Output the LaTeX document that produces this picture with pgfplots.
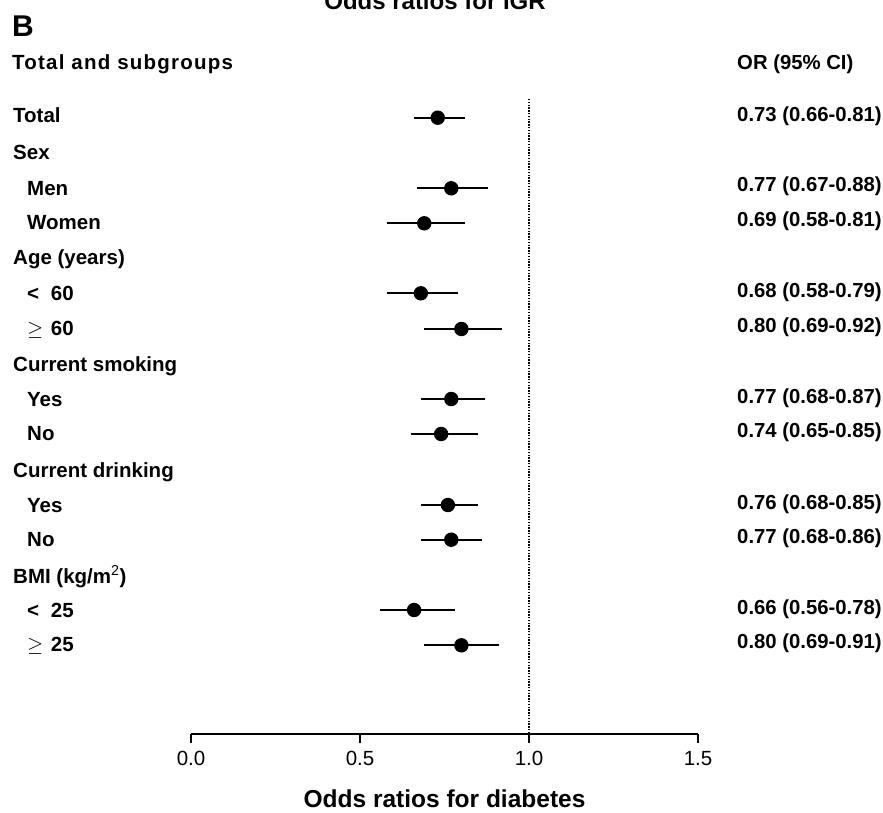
\documentclass[border=0pt]{standalone}
\usepackage{fontspec}
\setmainfont{Liberation Sans}
\usepackage{pgfplots}
\pgfplotsset{compat=1.18}
\usepackage{pgfplotstable}

\pgfplotstableread{
y or lo hi
117.7 0.73 0.66 0.81
188.3 0.77 0.67 0.88
223.3 0.69 0.58 0.81
293.3 0.68 0.58 0.79
329.0 0.80 0.69 0.92
399.0 0.77 0.68 0.87
434.0 0.74 0.65 0.85
505.0 0.76 0.68 0.85
539.7 0.77 0.68 0.86
610.0 0.66 0.56 0.78
645.3 0.80 0.69 0.91
}\ortable

\newcommand\lab{\fontsize{20.5}{24}\selectfont\bfseries}
\newcommand\val{\fontsize{20.3}{24}\selectfont\bfseries}

\begin{document}
\begin{tikzpicture}
\begin{axis}[
  scale only axis, width=507pt, height=644pt,
  xmin=0, xmax=1.5, ymin=-734, ymax=-90,
  axis x line=bottom, axis y line=none,
  x axis line style={-, line width=1.5pt, black},
  xtick={0,0.5,1,1.5}, xticklabels={0.0,0.5,1.0,1.5},
  tick align=outside, major tick length=9pt,
  xtick style={line width=1.5pt, black},
  xticklabel style={font=\fontsize{20.5}{24}\selectfont, yshift=-5pt},
  ytick=\empty,
  clip=false,
]
\addplot[black, line width=1.2pt, dash pattern=on 1.4pt off 1.4pt] coordinates {(1,-99) (1,-734)};
\addplot[black, line width=1.8pt, only marks, mark=*, mark size=6.3pt,
  error bars/.cd, x dir=both, x explicit, error mark=none,
  error bar style={line width=1.8pt, black}]
  table[x=or, y expr=-\thisrow{y},
        x error plus expr=\thisrow{hi}-\thisrow{or},
        x error minus expr=\thisrow{or}-\thisrow{lo}] {\ortable};

% header texts
\node[anchor=base west, inner sep=0] at (axis cs:-0.5296,-36.7) {\fontsize{30}{36}\selectfont\bfseries B};
\node[anchor=base, inner sep=0] at (axis cs:0.7219,-10) {\fontsize{24}{28}\selectfont\bfseries Odds ratios for IGR};
\node[anchor=base west, inner sep=0] at (axis cs:-0.5296,-70) {\lab\addfontfeature{LetterSpace=6}Total and subgroups};
\node[anchor=base west, inner sep=0] at (axis cs:1.6154,-70) {\val OR (95\% CI)};

% left labels
\node[anchor=base west, inner sep=0] at (axis cs:-0.5266,-123) {\lab Total};
\node[anchor=base west, inner sep=0] at (axis cs:-0.5266,-159) {\lab Sex};
\node[anchor=base west, inner sep=0] at (axis cs:-0.4852,-195) {\lab Men};
\node[anchor=base west, inner sep=0] at (axis cs:-0.4852,-229) {\lab Women};
\node[anchor=base west, inner sep=0] at (axis cs:-0.5266,-264) {\lab Age (years)};
\node[anchor=base west, inner sep=0] at (axis cs:-0.4852,-300) {\lab <};
\node[anchor=base west, inner sep=0] at (axis cs:-0.4151,-300) {\lab 60};
\node[anchor=base west, inner sep=0] at (axis cs:-0.4852,-335) {\lab $\geq$};
\node[anchor=base west, inner sep=0] at (axis cs:-0.4151,-335) {\lab 60};
\node[anchor=base west, inner sep=0] at (axis cs:-0.5266,-371) {\lab Current smoking};
\node[anchor=base west, inner sep=0] at (axis cs:-0.4852,-406) {\lab Yes};
\node[anchor=base west, inner sep=0] at (axis cs:-0.4852,-440) {\lab No};
\node[anchor=base west, inner sep=0] at (axis cs:-0.5266,-477) {\lab Current drinking};
\node[anchor=base west, inner sep=0] at (axis cs:-0.4852,-512) {\lab Yes};
\node[anchor=base west, inner sep=0] at (axis cs:-0.4852,-546) {\lab No};
\node[anchor=base west, inner sep=0] at (axis cs:-0.5266,-583) {\lab BMI (kg/m\textsuperscript{\mdseries 2})};
\node[anchor=base west, inner sep=0] at (axis cs:-0.4852,-617) {\lab <};
\node[anchor=base west, inner sep=0] at (axis cs:-0.4151,-617) {\lab 25};
\node[anchor=base west, inner sep=0] at (axis cs:-0.4852,-651) {\lab $\geq$};
\node[anchor=base west, inner sep=0] at (axis cs:-0.4151,-651) {\lab 25};

% right values
\node[anchor=base west, inner sep=0] at (axis cs:1.6154,-121.5) {\val 0.73 (0.66-0.81)};
\node[anchor=base west, inner sep=0] at (axis cs:1.6154,-191.5) {\val 0.77 (0.67-0.88)};
\node[anchor=base west, inner sep=0] at (axis cs:1.6154,-226) {\val 0.69 (0.58-0.81)};
\node[anchor=base west, inner sep=0] at (axis cs:1.6154,-297.3) {\val 0.68 (0.58-0.79)};
\node[anchor=base west, inner sep=0] at (axis cs:1.6154,-332) {\val 0.80 (0.69-0.92)};
\node[anchor=base west, inner sep=0] at (axis cs:1.6154,-403) {\val 0.77 (0.68-0.87)};
\node[anchor=base west, inner sep=0] at (axis cs:1.6154,-437.5) {\val 0.74 (0.65-0.85)};
\node[anchor=base west, inner sep=0] at (axis cs:1.6154,-509) {\val 0.76 (0.68-0.85)};
\node[anchor=base west, inner sep=0] at (axis cs:1.6154,-543) {\val 0.77 (0.68-0.86)};
\node[anchor=base west, inner sep=0] at (axis cs:1.6154,-614) {\val 0.66 (0.56-0.78)};
\node[anchor=base west, inner sep=0] at (axis cs:1.6154,-648.5) {\val 0.80 (0.69-0.91)};

% x label
\node[anchor=base, inner sep=0] at (axis cs:0.75,-807) {\fontsize{24.5}{28}\selectfont\bfseries Odds ratios for diabetes};

\coordinate (bl) at (axis cs:-0.5651,-812);
\coordinate (tr) at (axis cs:2.0473,0);
\end{axis}
\pgfresetboundingbox
\path[use as bounding box] (bl) rectangle (tr);
\end{tikzpicture}
\end{document}
